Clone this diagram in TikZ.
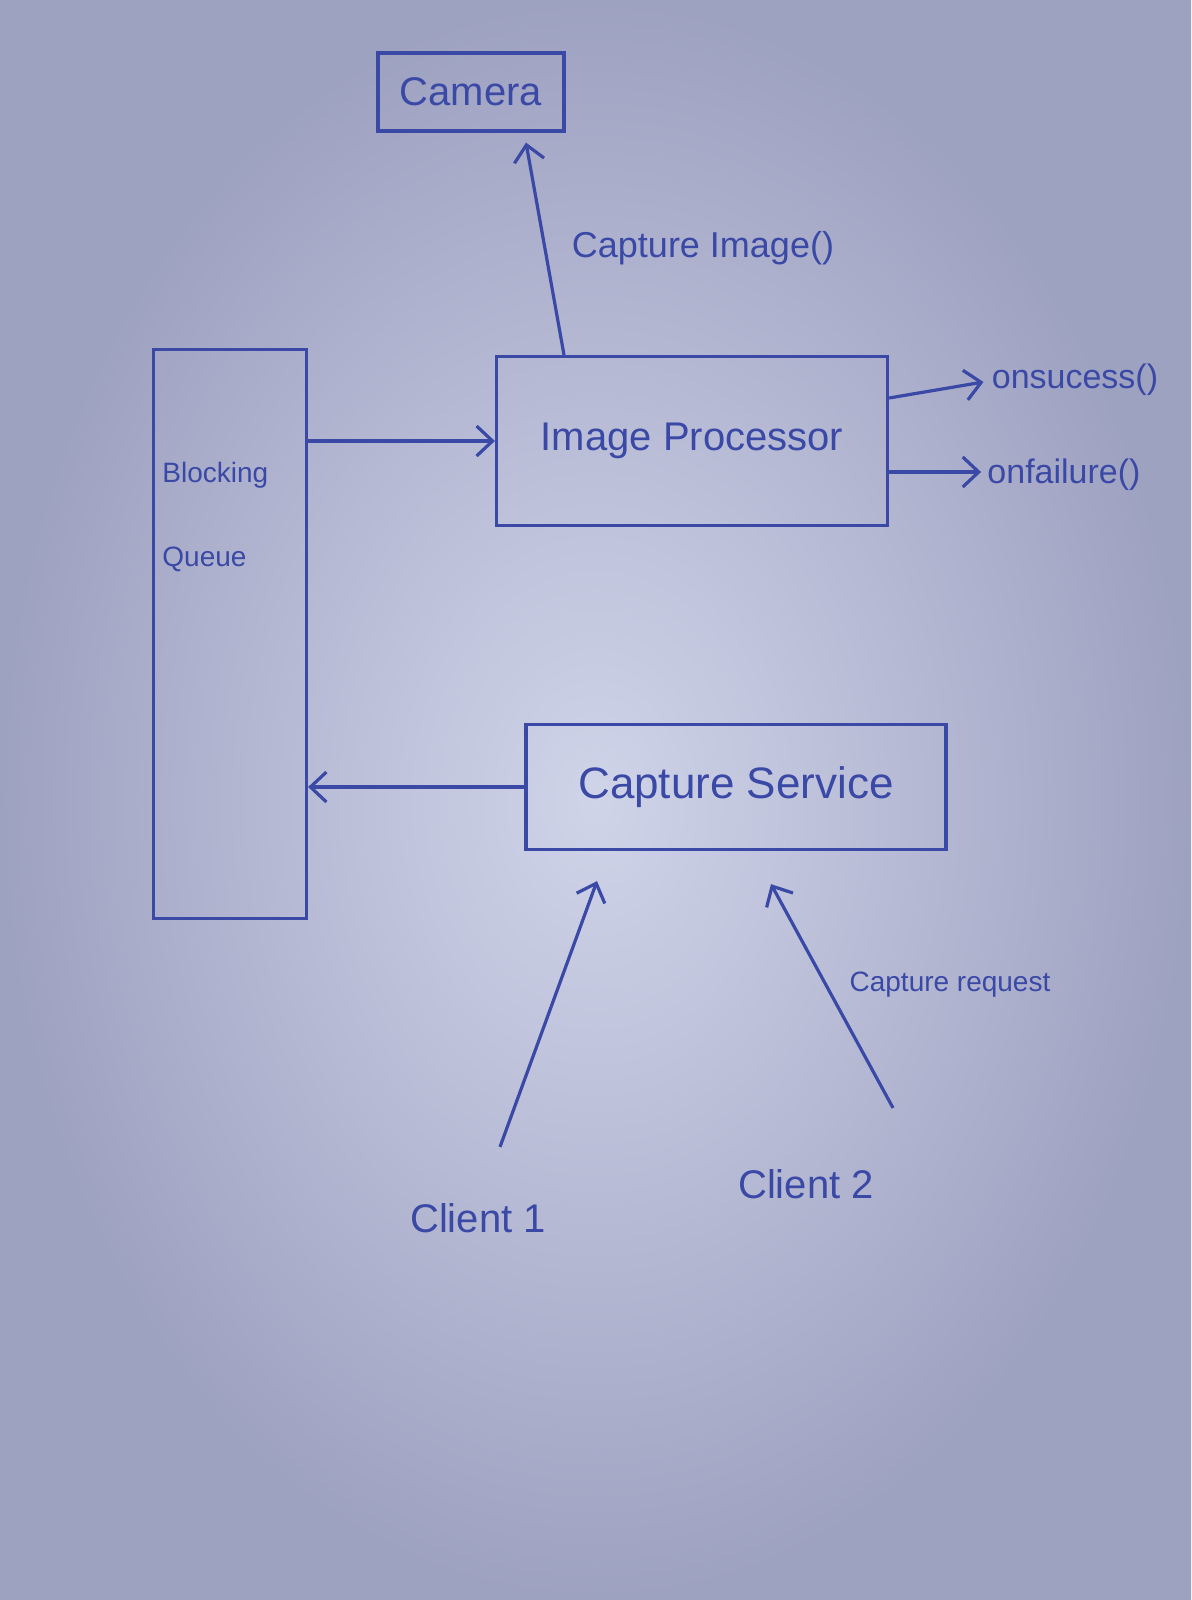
\documentclass[tikz,border=0pt]{standalone}
\usepackage{fontspec}
\setmainfont{Liberation Sans}
\usetikzlibrary{arrows.meta,calc}
\definecolor{ink}{HTML}{3A48A6}
\definecolor{paperin}{HTML}{D0D4E9}
\definecolor{paperout}{HTML}{9EA2C1}
\begin{document}
\begin{tikzpicture}[x=0.5pt,y=-0.5pt,
  box/.style={draw=ink,line width=1.6pt,inner sep=0pt,text=ink},
  lbl/.style={text=ink,inner sep=2pt},
  arr/.style={draw=ink,line width=1.6pt,-{Straight Barb[length=8pt,width=15pt]}},
  big/.style={font=\fontsize{20}{24}\selectfont},
  mid/.style={font=\fontsize{17}{20}\selectfont},
  small/.style={font=\fontsize{14}{17}\selectfont}]
\shade[inner color=paperin,outer color=paperout] (0,0) rectangle (1191,1600);
\useasboundingbox (0,0) rectangle (1191,1600);

% boxes
\node[box,big,minimum width=93pt,minimum height=39pt] (cam) at (471,92) {Camera};
\node[box,big,minimum width=195.5pt,minimum height=84.5pt] (ip) at (692,441) {Image Processor};
\node[box,minimum width=76.5pt,minimum height=284.5pt] (q) at (230,634) {};
\node[lbl,small,anchor=west] (qt1) at (158,475) {Blocking};
\node[lbl,small,anchor=west] (qt2) at (158,559) {Queue};
\node[box,font=\fontsize{22}{26}\selectfont,minimum width=210pt,minimum height=62.5pt] (cs) at (736,787) {Capture Service};

% labels
\node[lbl,font=\fontsize{18}{21}\selectfont] (ci) at (703,248) {Capture Image()};
\node[lbl,mid] (os) at (1075,380) {onsucess()};
\node[lbl,mid] (of) at (1064,475) {onfailure()};
\node[lbl,big] (c1) at (478,1218) {Client 1};
\node[lbl,big] (c2) at (806,1184) {Client 2};
\node[lbl,small] (cr) at (950,985) {Capture request};

% connectors
\draw[arr] ([shift={(-128,0)}]ip.north) -- ([shift={(55,10)}]cam.south);
\draw[arr] (q.east |- ip.west) -- (ip.west);
\draw[arr] (cs.west) -- (cs.west -| q.east);
\draw[arr] ([shift={(0,-43)}]ip.east) -- ([shift={(-4,2)}]os.west);
\draw[arr] ([shift={(0,31)}]ip.east) -- ([shift={(-2,-3)}]of.west);
\draw[arr] ([shift={(22,-52)}]c1.north) -- ([shift={(-139,30)}]cs.south);
\draw[arr] ([shift={(87,-57)}]c2.north) -- ([shift={(35,33)}]cs.south);
\end{tikzpicture}
\end{document}
